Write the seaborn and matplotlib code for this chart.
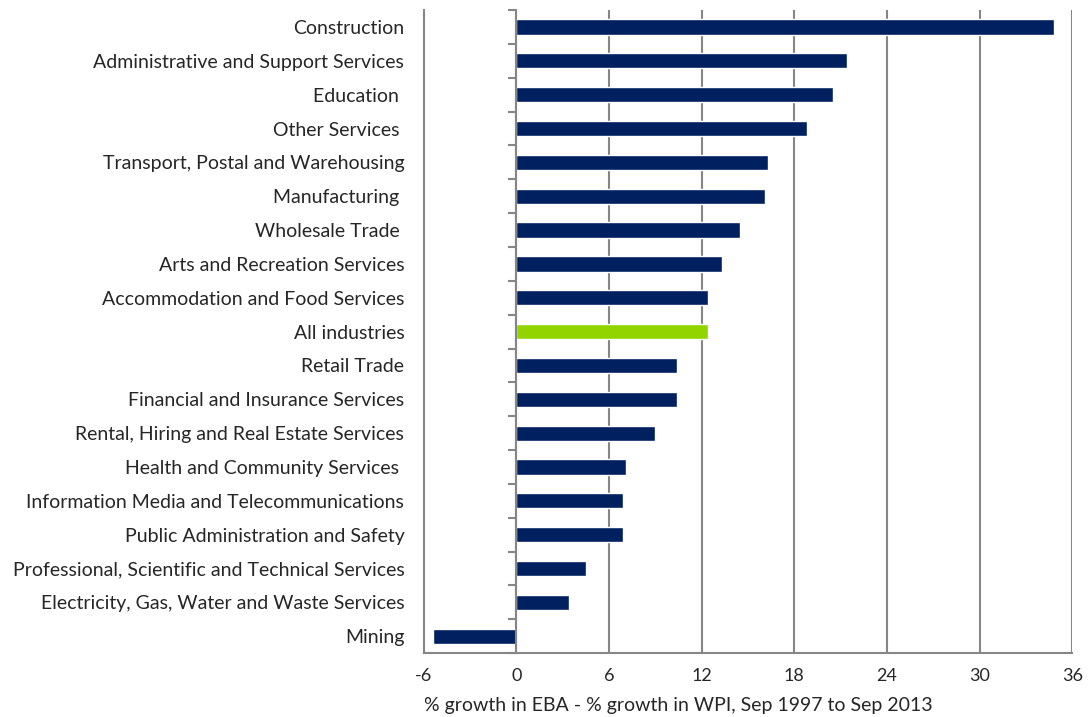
import matplotlib
matplotlib.use("Agg")
import matplotlib.pyplot as plt
import seaborn as sns
import pandas as pd

industries = [
    "Construction",
    "Administrative and Support Services",
    "Education ",
    "Other Services ",
    "Transport, Postal and Warehousing",
    "Manufacturing ",
    "Wholesale Trade ",
    "Arts and Recreation Services",
    "Accommodation and Food Services",
    "All industries",
    "Retail Trade",
    "Financial and Insurance Services",
    "Rental, Hiring and Real Estate Services",
    "Health and Community Services ",
    "Information Media and Telecommunications",
    "Public Administration and Safety",
    "Professional, Scientific and Technical Services",
    "Electricity, Gas, Water and Waste Services",
    "Mining",
]
growth_gap = [34.8, 21.4, 20.5, 18.8, 16.3, 16.1, 14.5, 13.3, 12.4, 12.4,
              10.4, 10.4, 9.0, 7.1, 6.9, 6.9, 4.5, 3.4, -5.4]
x_ticks = [-6, 0, 6, 12, 18, 24, 30, 36]

navy = "#002060"
green = "#92D400"
grey = "#868686"

sns.set_style("white")
plt.rcParams['font.family'] = ['Lato', 'DejaVu Sans']

df = pd.DataFrame({"industry": industries, "value": growth_gap})
colors = [green if s == "All industries" else navy for s in industries]

fig = plt.figure(figsize=(10.92, 7.17), dpi=100)
ax = fig.add_axes([0.388, 0.089, 0.594, 0.897])

# gridlines behind bars
for t in x_ticks[1:]:
    ax.axvline(t, color=grey, lw=1.5, zorder=0)

sns.barplot(data=df, x="value", y="industry", hue="industry", palette=colors,
            legend=False, orient="h", width=0.45, saturation=1, ax=ax, zorder=2)

ax.set_xlim(-6, 36)
ax.set_ylim(len(industries) - 0.5, -0.5)
ax.set_xticks(x_ticks)
ax.set_xticklabels([str(t) for t in x_ticks], fontsize=13)
ax.tick_params(axis="x", direction="out", length=6, color=grey, width=1.5, pad=5)
ax.tick_params(axis="y", length=0, labelsize=14, pad=14)
ax.set_ylabel("")
ax.set_xlabel("% growth in EBA - % growth in WPI, Sep 1997 to Sep 2013",
              fontsize=14, labelpad=9, loc="left")

for side in ["top", "right"]:
    ax.spines[side].set_visible(False)
for side in ["left", "bottom"]:
    ax.spines[side].set_color(grey)
    ax.spines[side].set_linewidth(1.5)

# category axis drawn at zero with ticks between categories
ax2 = ax.twinx()
ax2.set_ylim(ax.get_ylim())
ax2.spines['left'].set_position(('data', 0))
ax2.spines['left'].set_color(grey)
ax2.spines['left'].set_linewidth(1.5)
for side in ["top", "right", "bottom"]:
    ax2.spines[side].set_visible(False)
ax2.yaxis.set_ticks_position('left')
ax2.set_yticks([i - 0.5 for i in range(len(industries) + 1)])
ax2.set_yticklabels([])
ax2.tick_params(axis="y", direction="out", length=6, color=grey, width=1.5)

fig.savefig("out.png", dpi=100)
